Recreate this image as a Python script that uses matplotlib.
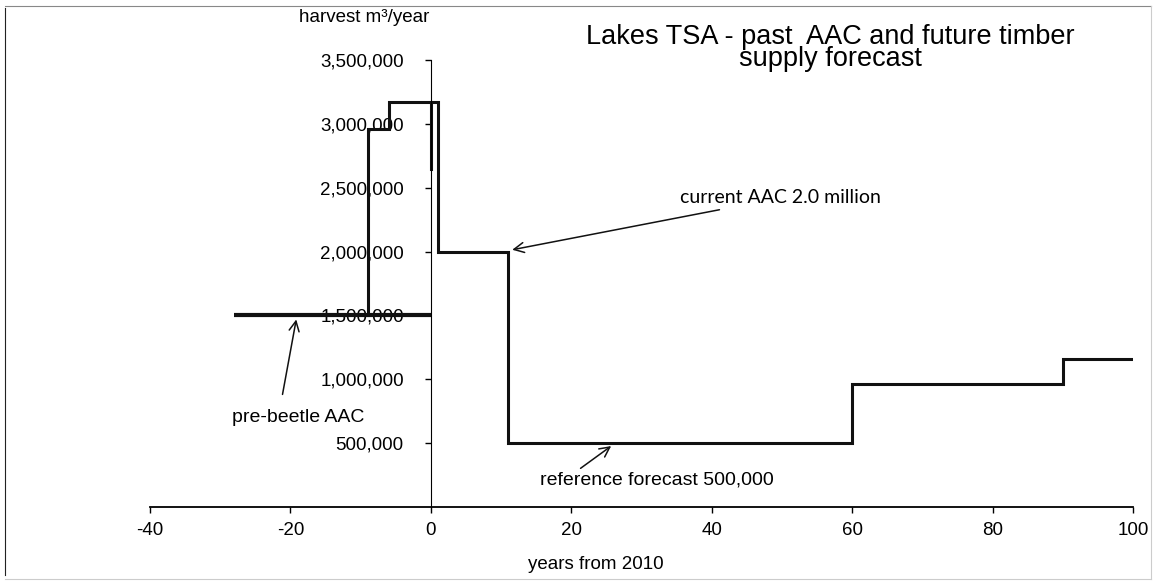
import numpy as np
import matplotlib
matplotlib.use("Agg")
import matplotlib.pyplot as plt
from matplotlib.lines import Line2D
from matplotlib.ticker import FuncFormatter

plt.rcParams['font.family'] = ['Liberation Sans', 'DejaVu Sans']
plt.rcParams['axes.unicode_minus'] = False

# pre-beetle AAC (flat)
pre_x = [-28, 0]
pre_y = [1500000, 1500000]

# past AAC steps
past_x = [-9, -9, -6, -6, 0, 0]
past_y = [1500000, 2960000, 2960000, 3170000, 3170000, 2650000]

# reference forecast steps
fc_x = [0, 1, 1, 11, 11, 60, 60, 90, 90, 100]
fc_y = [3170000, 3170000, 2000000, 2000000, 500000, 500000, 960000, 960000, 1160000, 1160000]

xticks = [-40, -20, 0, 20, 40, 60, 80, 100]
yticks = [500000, 1000000, 1500000, 2000000, 2500000, 3000000, 3500000]

fig = plt.figure(figsize=(11.56, 5.87), dpi=100)
ax = fig.add_axes([150/1156, 1-507/587, 983/1156, 447/587])

ax.plot(pre_x, pre_y, color='#111111', lw=3.0, solid_capstyle='butt')
ax.plot(past_x, past_y, color='#111111', lw=2.2, solid_joinstyle='miter')
ax.plot(fc_x, fc_y, color='#111111', lw=2.2, solid_joinstyle='miter')

ax.set_xlim(-40, 100)
ax.set_ylim(0, 3500000)
ax.spines['top'].set_visible(False)
ax.spines['right'].set_visible(False)
ax.spines['left'].set_position(('data', 0))
ax.spines['left'].set_linewidth(0.8)
ax.spines['bottom'].set_linewidth(1.3)
ax.set_xticks(xticks)
ax.set_yticks(yticks)
ax.yaxis.set_major_formatter(FuncFormatter(lambda v, p: f"{int(v):,}"))
ax.tick_params(axis='y', direction='out', length=4.5, width=1, pad=15, labelsize=13.5)
ax.tick_params(axis='x', direction='out', length=4.5, width=1, pad=6, labelsize=13.5)
ax.set_facecolor('none')

ax.set_xlabel('years from 2010', fontsize=13.5)
ax.xaxis.set_label_coords(0.454, -0.11)

fig.text(364/1156, 1-17/587, 'harvest m\u00b3/year', fontsize=13.5, ha='center', va='center')
fig.text(830/1156, 1-24/587, 'Lakes TSA - past  AAC and future timber\nsupply forecast',
         fontsize=19.5, ha='center', va='top', linespacing=0.8)

arrow = dict(arrowstyle='->', color='#111111', lw=1.1, mutation_scale=18)
ax.annotate('current AAC 2.0 million', xy=(11.2, 2010000), xytext=(35.5, 2420000),
            fontsize=14, family=['Lato', 'DejaVu Sans'], ha='left', va='center',
            arrowprops=arrow)
ax.annotate('', xy=(-19.1, 1490000), xytext=(-21.2, 860000), arrowprops=arrow)
ax.text(-28.3, 697000, 'pre-beetle AAC', fontsize=14, ha='left', va='center')
ax.annotate('', xy=(26, 490000), xytext=(21, 290000), arrowprops=arrow)
ax.text(15.5, 210000, 'reference forecast 500,000', fontsize=14, ha='left', va='center')

# page frame from the scan
fig.add_artist(Line2D([5/1156, 5/1156], [1-8/587, 1-575/587], color='#222222', lw=0.8))
fig.add_artist(Line2D([5/1156, 1151/1156], [1-6/587, 1-6/587], color='#888888', lw=0.8))
fig.add_artist(Line2D([5/1156, 1151/1156], [1-579/587, 1-579/587], color='#cccccc', lw=0.8))
fig.add_artist(Line2D([1151/1156, 1151/1156], [1-6/587, 1-579/587], color='#cccccc', lw=0.8))

fig.savefig('out.png', dpi=100)
